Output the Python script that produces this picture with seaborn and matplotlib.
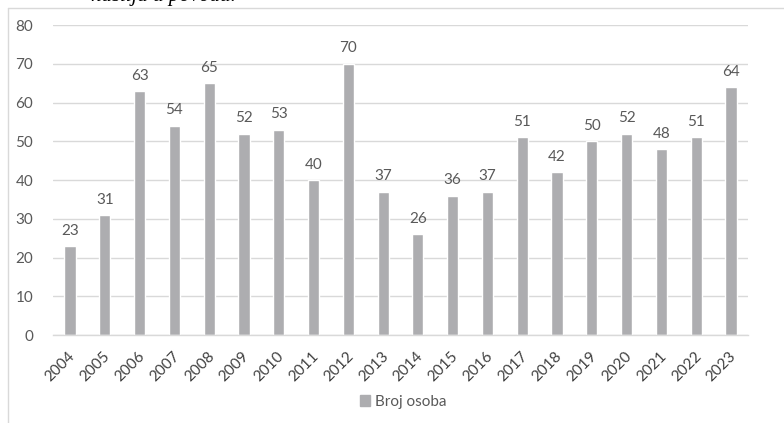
import matplotlib
matplotlib.use("Agg")
import matplotlib.pyplot as plt
import seaborn as sns
import pandas as pd
from matplotlib.patches import Rectangle
from matplotlib.lines import Line2D
from matplotlib.transforms import ScaledTranslation

years = ["2004", "2005", "2006", "2007", "2008", "2009", "2010", "2011", "2012", "2013",
         "2014", "2015", "2016", "2017", "2018", "2019", "2020", "2021", "2022", "2023"]
values = [23, 31, 63, 54, 65, 52, 53, 40, 70, 37, 26, 36, 37, 51, 42, 50, 52, 48, 51, 64]
series_name = "Broj osoba"
yticks = [0, 10, 20, 30, 40, 50, 60, 70, 80]

sns.set_theme(style="white")
plt.rcParams['font.family'] = ['Lato', 'DejaVu Sans']

TXT = "#595959"
BAR = "#ADADB0"
GRID = "#D9D9D9"

fig = plt.figure(figsize=(7.84, 4.23), dpi=100)
fig.patch.set_facecolor("white")

# outer chart frame
fig.add_artist(Line2D([8/784, 8/784], [0, 1 - 8/423], transform=fig.transFigure, color=GRID, lw=1))
fig.add_artist(Line2D([8/784, 1], [1 - 8/423, 1 - 8/423], transform=fig.transFigure, color=GRID, lw=1))

# caption text at top (clipped in the reference)
fig.text(163/784, 1 - 1/423, "nasilja u povodu.", ha="center", va="baseline",
         fontsize=15, style="italic", family="Liberation Serif", color="#000000")

ax = fig.add_axes([52.6/784, 1 - 335/423, (748.4 - 52.6)/784, (335 - 25)/423])
df = pd.DataFrame({"year": years, "value": values, "series": series_name})
sns.barplot(data=df, x="year", y="value", color=BAR, width=0.32, ax=ax, saturation=1)

ax.set_ylim(0, 80)
ax.set_yticks(yticks)
ax.set_xlim(-0.5, len(years) - 0.5)
ax.yaxis.grid(True, color=GRID, lw=1)
ax.set_axisbelow(True)
for s in ["top", "right", "left"]:
    ax.spines[s].set_visible(False)
ax.spines["bottom"].set_color(GRID)
ax.spines["bottom"].set_linewidth(1)
ax.set_xlabel("")
ax.set_ylabel("")
ax.tick_params(axis="y", colors=TXT, labelsize=11, length=0, pad=14)
ax.tick_params(axis="x", colors=TXT, labelsize=11, length=0, pad=14)
offset = ScaledTranslation(3/100, 0, fig.dpi_scale_trans)
for lab in ax.get_xticklabels():
    lab.set_rotation(45)
    lab.set_ha("right")
    lab.set_va("center")
    lab.set_rotation_mode("anchor")
    lab.set_color("#404040")
    lab.set_transform(lab.get_transform() + offset)

for c in ax.containers:
    ax.bar_label(c, labels=[str(v) for v in values], padding=6, color=TXT, fontsize=11)

handle = Rectangle((0, 0), 1, 1, color=BAR)
fig.legend([handle], [series_name], loc="center", bbox_to_anchor=(403/784, 1 - 402/423),
           frameon=False, fontsize=11, labelcolor=TXT, handlelength=0.7, handleheight=0.7,
           handletextpad=0.3)

fig.savefig("out.png", dpi=100, facecolor="white")
